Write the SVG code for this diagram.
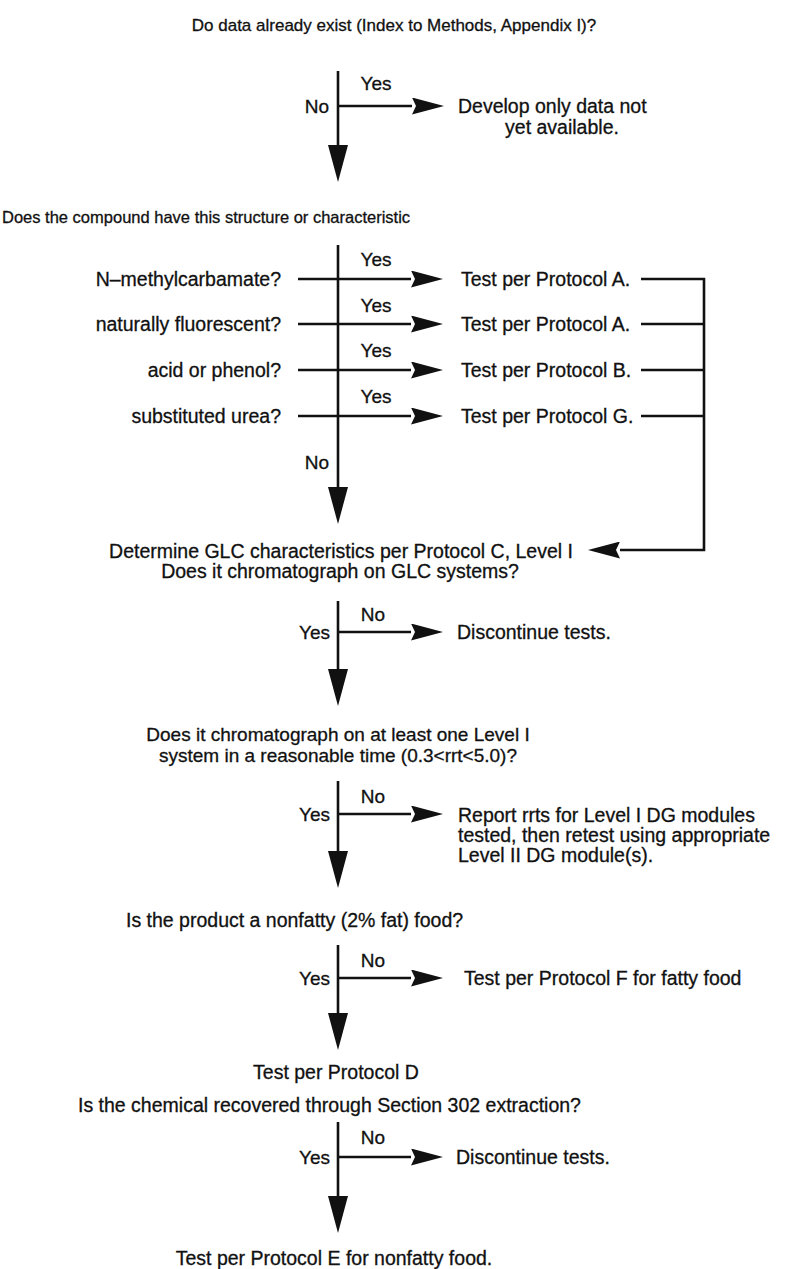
<svg xmlns="http://www.w3.org/2000/svg" width="789" height="1269" viewBox="0 0 789 1269">
<style>
  text { font-family: "Liberation Sans", Arial, sans-serif; font-size: 19.5px; fill: #111; stroke: #111; stroke-width: 0.3; }
  .lbl { font-size: 19px; }
  .head { font-size: 17px; }
  .m { text-anchor: middle; }
  .e { text-anchor: end; }
  .ln { stroke: #111; stroke-width: 2.6; fill: none; }
  .va { marker-end: url(#arrV); }
  .ha { marker-end: url(#arrH); }
</style>
<defs>
  <marker id="arrV" markerUnits="userSpaceOnUse" markerWidth="38" markerHeight="20" viewBox="0 0 38 20" refX="0" refY="10" orient="auto">
    <path d="M0,0 L37,10 L0,20 Z" fill="#111"/>
  </marker>
  <marker id="arrH" markerUnits="userSpaceOnUse" markerWidth="33" markerHeight="17" viewBox="0 0 33 17" refX="0" refY="8.5" orient="auto">
    <path d="M0,0 L32,8.5 L0,17 L4,8.5 Z" fill="#111"/>
  </marker>
</defs>

<g id="connectors">
  <line class="ln va" x1="338" y1="71" x2="338" y2="145"/>
  <line class="ln ha" x1="338" y1="106" x2="412" y2="106"/>

  <line class="ln va" x1="338" y1="245" x2="338" y2="487"/>
  <line class="ln ha" x1="298" y1="279" x2="411" y2="279"/>
  <line class="ln ha" x1="298" y1="324" x2="411" y2="324"/>
  <line class="ln ha" x1="298" y1="370" x2="411" y2="370"/>
  <line class="ln ha" x1="298" y1="416" x2="411" y2="416"/>

  <line class="ln" x1="641" y1="279" x2="705" y2="279"/>
  <line class="ln" x1="641" y1="324" x2="705" y2="324"/>
  <line class="ln" x1="641" y1="370" x2="705" y2="370"/>
  <line class="ln" x1="641" y1="416" x2="705" y2="416"/>
  <polyline class="ln ha" points="704,278 704,550 620,550"/>

  <line class="ln va" x1="338" y1="601" x2="338" y2="669"/>
  <line class="ln ha" x1="338" y1="632" x2="411" y2="632"/>

  <line class="ln va" x1="338" y1="781" x2="338" y2="851"/>
  <line class="ln ha" x1="338" y1="814" x2="411" y2="814"/>

  <line class="ln va" x1="338" y1="945" x2="338" y2="1013"/>
  <line class="ln ha" x1="338" y1="978" x2="411" y2="978"/>

  <line class="ln va" x1="338" y1="1122" x2="338" y2="1196"/>
  <line class="ln ha" x1="338" y1="1157" x2="411" y2="1157"/>
</g>

<g id="edge-labels">
  <text class="lbl m" x="376" y="90">Yes</text>
  <text class="lbl e" x="329" y="113">No</text>
  <text class="lbl m" x="376" y="266">Yes</text>
  <text class="lbl m" x="376" y="312">Yes</text>
  <text class="lbl m" x="376" y="357">Yes</text>
  <text class="lbl m" x="376" y="403">Yes</text>
  <text class="lbl e" x="329" y="469">No</text>
  <text class="lbl m" x="373" y="621">No</text>
  <text class="lbl e" x="330" y="639">Yes</text>
  <text class="lbl m" x="373" y="803">No</text>
  <text class="lbl e" x="330" y="821">Yes</text>
  <text class="lbl m" x="373" y="967">No</text>
  <text class="lbl e" x="330" y="985">Yes</text>
  <text class="lbl m" x="373" y="1144">No</text>
  <text class="lbl e" x="330" y="1164">Yes</text>
</g>

<g id="q-data-exist"><text class="head m" x="394" y="31">Do data already exist (Index to Methods, Appendix I)?</text></g>
<g id="r-develop">
  <text x="458" y="113">Develop only data not</text>
  <text class="m" x="562" y="134">yet available.</text>
</g>
<g id="q-structure"><text class="head" x="2" y="223" style="font-size:16.5px">Does the compound have this structure or characteristic</text></g>

<g id="c-carbamate"><text class="e" x="281" y="286">N–methylcarbamate?</text></g>
<g id="c-fluorescent"><text class="e" x="281" y="331">naturally fluorescent?</text></g>
<g id="c-acid"><text class="e" x="281" y="377">acid or phenol?</text></g>
<g id="c-urea"><text class="e" x="281" y="423">substituted urea?</text></g>

<g id="t-protocol-a1"><text x="461" y="286">Test per Protocol A.</text></g>
<g id="t-protocol-a2"><text x="461" y="331">Test per Protocol A.</text></g>
<g id="t-protocol-b"><text x="461" y="377">Test per Protocol B.</text></g>
<g id="t-protocol-g"><text x="461" y="423">Test per Protocol G.</text></g>

<g id="q-glc">
  <text class="m" x="341" y="558">Determine GLC characteristics per Protocol C, Level I</text>
  <text class="m" x="340" y="578">Does it chromatograph on GLC systems?</text>
</g>
<g id="r-discontinue-1"><text x="457" y="639">Discontinue tests.</text></g>

<g id="q-level1">
  <text class="m" x="338" y="741" style="font-size:19px">Does it chromatograph on at least one Level I</text>
  <text class="m" x="338" y="762" style="font-size:19px">system in a reasonable time (0.3&lt;rrt&lt;5.0)?</text>
</g>
<g id="r-report">
  <text x="458" y="822">Report rrts for Level I DG modules</text>
  <text x="458" y="842">tested, then retest using appropriate</text>
  <text x="458" y="862">Level II DG module(s).</text>
</g>

<g id="q-nonfatty"><text x="126" y="927">Is the product a nonfatty (2% fat) food?</text></g>
<g id="r-protocol-f"><text x="464" y="985">Test per Protocol F for fatty food</text></g>

<g id="q-section302">
  <text class="m" x="336" y="1079">Test per Protocol D</text>
  <text x="78" y="1112">Is the chemical recovered through Section 302 extraction?</text>
</g>
<g id="r-discontinue-2"><text x="456" y="1164">Discontinue tests.</text></g>

<g id="r-protocol-e"><text class="m" x="334" y="1265">Test per Protocol E for nonfatty food.</text></g>
</svg>
